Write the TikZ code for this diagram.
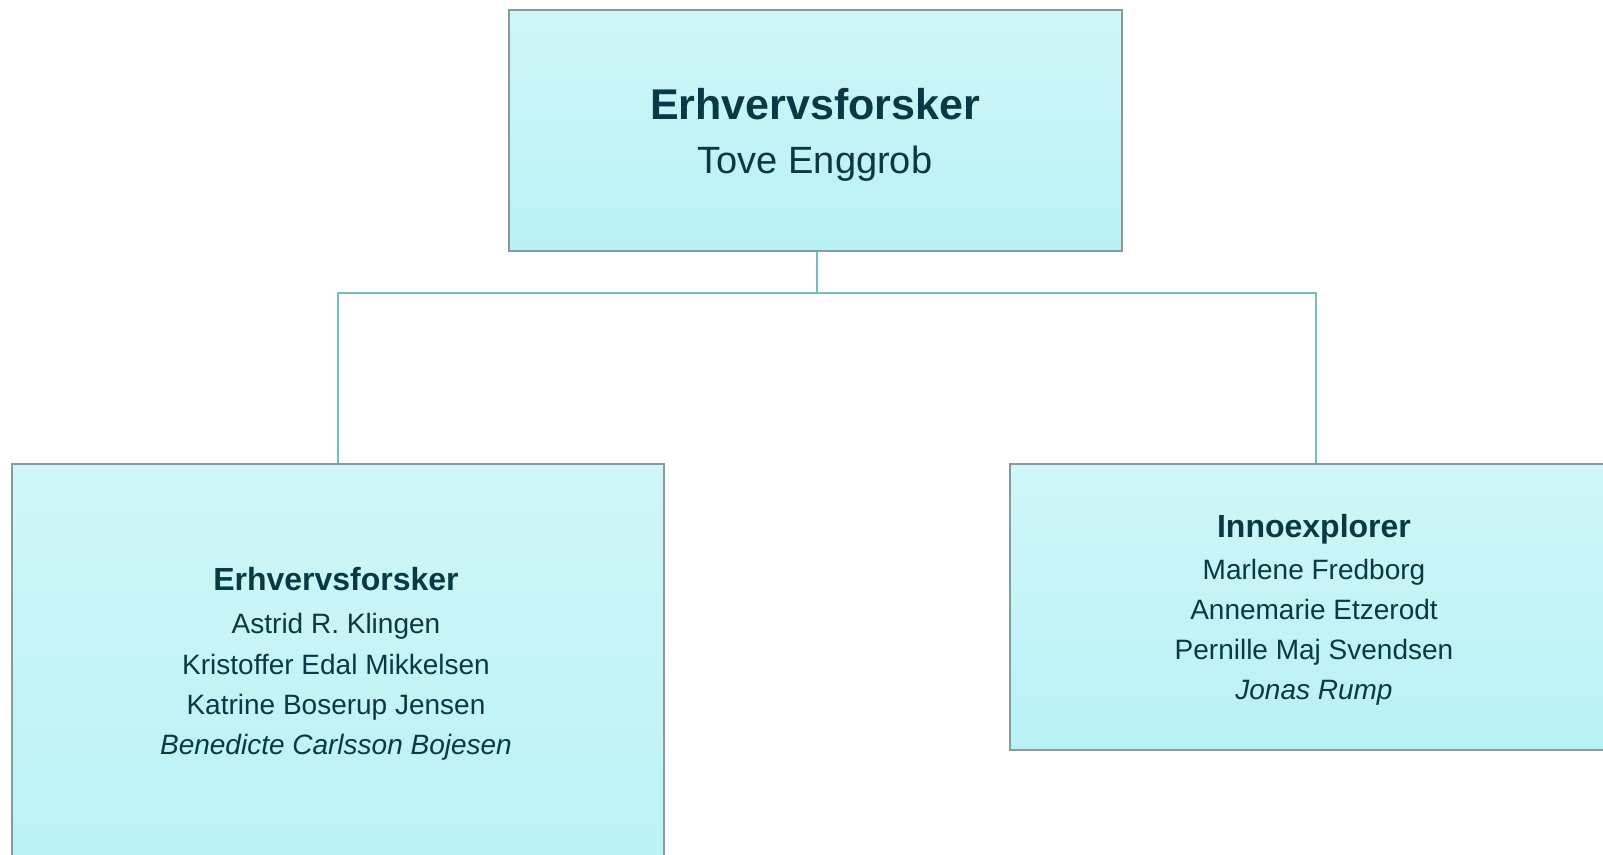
\documentclass[tikz,border=0pt]{standalone}
\usepackage{fontspec}
\setmainfont{Liberation Sans}
\usepackage{xcolor}
\usetikzlibrary{positioning}

\definecolor{boxtop}{HTML}{D0F6F8}
\definecolor{boxbottom}{HTML}{B8F1F5}
\definecolor{boxline}{HTML}{8A9A9C}
\definecolor{linkline}{HTML}{72BEC4}
\definecolor{inktext}{HTML}{073A44}

\begin{document}
\begin{tikzpicture}[
    % GLOBAL CFG (one unit = one pixel of the chart)
    x=0.5pt, y=-0.5pt,
    every node/.style={text=inktext},
    % Styles
    unit/.style={% For the boxes of the chart
        rectangle,
        draw=boxline,
        line width=1pt,
        top color=boxtop,
        bottom color=boxbottom,
        inner sep=0pt,
        },
    head/.style={% For the name of a unit
        anchor=base,
        font=\bfseries\fontsize{16}{19}\selectfont,
        },
    member/.style={% For the people of a unit
        anchor=base,
        font=\fontsize{14}{17}\selectfont,
        },
    link/.style={% Lines between boxes
        draw=linkline,
        line width=1pt,
        },
    ]

    \useasboundingbox (0,0) rectangle (1603,855);
    \clip (0,0) rectangle (1603,855);

    % Draw the boxes
    \node [unit, minimum width=306.5pt, minimum height=120.5pt] (top) at (815,130.7) {};
    \node [unit, minimum width=325.6pt, minimum height=220pt] (left) at (338,684) {};
    \node [unit, minimum width=305.5pt, minimum height=143.2pt] (right) at (1315.7,607.2) {};

    % Top box texts
    \node [head, font=\bfseries\fontsize{21.5}{25}\selectfont] (toptitle) at (815,119.6) {Erhvervsforsker};
    \node [member, font=\fontsize{19}{23}\selectfont] (topname) at (815,174) {Tove Enggrob};

    % Left box texts
    \node [head] (lefttitle) at (336,590.9) {Erhvervsforsker};
    \foreach \name/\ypos [count=\i] in {Astrid R. Klingen/633.8,
        Kristoffer Edal Mikkelsen/674.7,
        Katrine Boserup Jensen/714.6,
        {\itshape Benedicte Carlsson Bojesen}/754.5}
        \node [member] (lname\i) at (336,\ypos) {\name};

    % Right box texts
    \node [head] (righttitle) at (1314,537.7) {Innoexplorer};
    \foreach \name/\ypos [count=\i] in {Marlene Fredborg/579.6,
        Annemarie Etzerodt/619.5,
        Pernille Maj Svendsen/659.4,
        {\itshape Jonas Rump}/699.3}
        \node [member] (rname\i) at (1314,\ypos) {\name};

    % Connect the boxes
    \coordinate (fork) at ([xshift=1pt, yshift=-20.5pt]top.south);
    \draw [link] (top.south -| fork) -- (fork);
    \draw [link] (fork) -| (left.north);
    \draw [link] (fork) -| (right.north);

\end{tikzpicture}
\end{document}
